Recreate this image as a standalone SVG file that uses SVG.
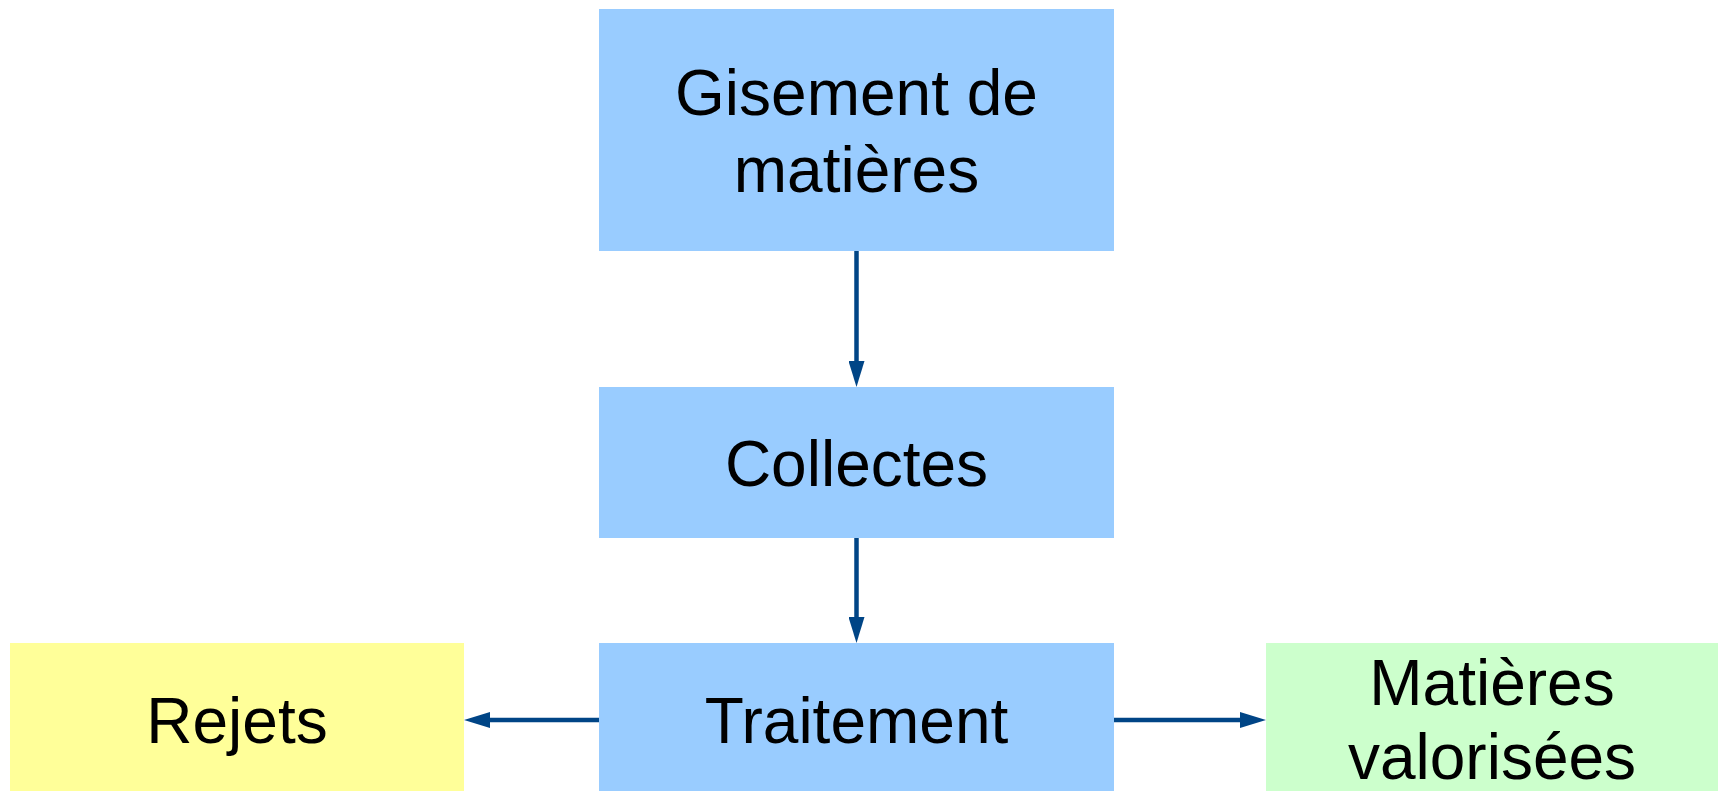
<svg xmlns="http://www.w3.org/2000/svg" width="1721" height="791" viewBox="0 0 1721 791">
  <style>
    .lbl { font-family: "Liberation Sans", Arial, sans-serif; font-size: 64px; fill: #000000; text-anchor: middle; }
    .blue { fill: #99CCFF; }
    .yellow { fill: #FFFF99; }
    .green { fill: #CCFFCC; }
    .conn { stroke: #004586; stroke-width: 4.5; fill: none; marker-end: url(#arr); }
  </style>
  <defs>
    <marker id="arr" viewBox="0 0 26 16" refX="0" refY="8" markerWidth="26" markerHeight="16" markerUnits="userSpaceOnUse" orient="auto">
      <path d="M0,0 L26,8 L0,16 z" fill="#004586"/>
    </marker>
  </defs>
  <rect width="1721" height="791" fill="#FFFFFF"/>
  <g id="gisement">
    <rect class="blue" x="599" y="9" width="515" height="242"/>
    <text class="lbl" x="856.5" y="115">Gisement de</text>
    <text class="lbl" x="856.5" y="192">matières</text>
  </g>
  <g id="collectes">
    <rect class="blue" x="599" y="387" width="515" height="151"/>
    <text class="lbl" x="856.5" y="486">Collectes</text>
  </g>
  <g id="traitement">
    <rect class="blue" x="599" y="643" width="515" height="148"/>
    <text class="lbl" x="856.5" y="743">Traitement</text>
  </g>
  <g id="rejets">
    <rect class="yellow" x="10" y="643" width="454" height="148"/>
    <text class="lbl" x="237" y="743">Rejets</text>
  </g>
  <g id="matieres-valorisees">
    <rect class="green" x="1266" y="643" width="452" height="148"/>
    <text class="lbl" x="1492" y="705">Matières</text>
    <text class="lbl" x="1492" y="779">valorisées</text>
  </g>
  <g id="connectors">
    <line class="conn" x1="856.5" y1="251" x2="856.5" y2="361"/>
    <line class="conn" x1="856.5" y1="538" x2="856.5" y2="617"/>
    <line class="conn" x1="599" y1="720" x2="490" y2="720"/>
    <line class="conn" x1="1114" y1="720" x2="1240" y2="720"/>
  </g>
</svg>
